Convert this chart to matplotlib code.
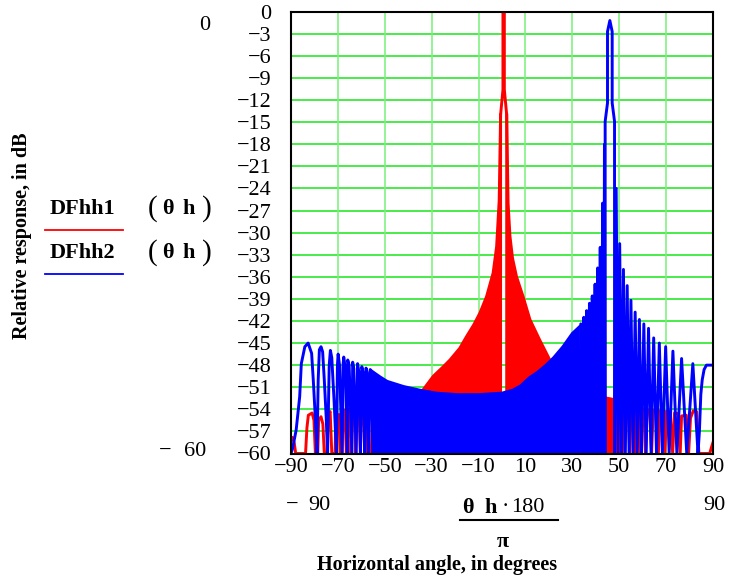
import numpy as np
import matplotlib.pyplot as plt
from matplotlib.lines import Line2D

plt.rcParams['font.family'] = ['Liberation Serif', 'DejaVu Serif']
plt.rcParams['axes.unicode_minus'] = True

# ---- DFhh1 (red), beam near broadside ----
# separate sidelobes on the far left (peak / null points, deg and dB)
red_left_ang = [-90.0, -89.4, -88.6, -88.0, -83.8, -83.2, -82.6, -81.0, -80.2, -79.6,
                -78.6, -78.2, -77.2, -76.4, -75.8,
                -74.6, -74.2, -73.3, -72.6,
                -71.2, -70.8, -69.6, -69.0,
                -68.2, -67.8, -67.0, -66.4,
                -65.8, -65.0, -64.4,
                -63.8, -63.0, -62.4,
                -61.8, -61.0, -60.4,
                -59.8, -59.0, -58.4,
                -57.8, -57.0, -56.4]
red_left_db = [-58.0, -57.8, -58.6, -60, -60, -56.5, -54.8, -54.5, -55.5, -60,
               -60, -55.5, -55.0, -56.0, -60,
               -60, -54.8, -54.3, -60,
               -60, -55.0, -54.7, -60,
               -60, -54.4, -54.1, -60,
               -54.0, -54.0, -60,
               -53.9, -53.8, -60,
               -53.8, -53.7, -60,
               -53.6, -53.5, -60,
               -53.5, -53.4, -60]
# top edge of the dense sidelobe band, either side of the main beam
red_band_l_ang = [-56, -48, -40, -34, -29.3, -25, -22.2, -18, -15.1, -12, -9.4, -6.6,
                  -3.8, -2.3, -1.2, -0.6]
red_band_l_db = [-53.4, -53.2, -52.6, -51.5, -49.5, -48.2, -47.3, -45.7, -44.1, -42.5,
                 -40.9, -38.7, -35.5, -31.9, -25.6, -14.0]
red_band_r_ang = [2.0, 2.6, 3.4, 4.5, 6.2, 9.0, 11.9, 16.1, 20.4, 25, 30, 35, 40, 45, 50]
red_band_r_db = [-14.0, -26.0, -30.5, -33.5, -36.0, -38.7, -41.8, -44.6, -47.3, -49.3,
                 -50.8, -51.8, -52.2, -52.5, -52.8]
red_beam_ang = [-0.6, -0.6, 0.4, 0.4, 1.0, 1.0, 2.0, 2.0]
red_beam_db = [-60, -14.0, -10.6, 1.0, 1.0, -10.6, -14.0, -60]
red_right_ang = [50.2, 50.8, 51.6, 52.3, 52.9, 53.8, 54.5, 55.1, 56.0, 56.7,
                 57.3, 58.2, 58.9, 59.5, 60.5, 61.2, 61.9, 63.0, 63.8,
                 64.5, 65.8, 66.7, 67.4, 68.6, 69.5, 70.2, 71.8, 72.8,
                 73.6, 75.2, 76.0, 76.6, 78.6, 79.6, 80.4, 81.6, 83.0, 84.0,
                 88.6, 89.3, 90.0]
red_right_db = [-60, -53.0, -53.3, -60, -53.2, -53.4, -60, -53.4, -53.6, -60,
                -53.6, -53.8, -60, -53.8, -54.0, -60, -54.0, -54.2, -60,
                -54.1, -54.3, -60, -54.2, -54.3, -60, -54.2, -54.4, -60,
                -54.5, -54.6, -60, -54.9, -54.8, -60, -55.2, -54.2, -54.3, -60,
                -60, -59.2, -58.5]

# ---- DFhh2 (blue), beam steered to about 46 deg ----
blue_left_ang = [-90.0, -89.3, -87.8, -86.3, -85.6, -84.1, -82.7, -81.2, -80.5, -79.8, -78.9,
                 -78.4, -77.9, -77.2, -76.5, -75.8, -75.0, -74.4,
                 -73.7, -73.2, -72.6, -71.6, -70.6,
                 -70.2, -69.9, -69.3, -68.2,
                 -67.8, -67.5, -66.8, -66.0,
                 -65.8, -65.2, -64.0,
                 -63.7, -63.2, -62.2,
                 -61.6, -61.0, -60.4,
                 -59.8, -59.2, -58.6,
                 -58.0, -57.5, -57.0,
                 -56.2, -55.7, -55.2]
blue_left_db = [-60, -59.3, -56.8, -52.3, -47.8, -45.5, -45.0, -46.4, -50.0, -54.1, -60,
                -50, -45.9, -45.5, -46.2, -50, -55, -60,
                -48, -46.0, -47, -53, -60,
                -48, -46.5, -48, -60,
                -48, -46.9, -48.5, -60,
                -47.3, -48, -60,
                -47.6, -48.5, -60,
                -47.8, -49, -60,
                -48.2, -49, -60,
                -48.4, -49, -60,
                -48.6, -49, -60]
blue_band_ang = [-55.6, -52, -49, -45, -42, -35, -28, -19, -10, 0, 4.6, 8, 11.7, 15,
                 18.8, 22, 26, 30, 33.0]
blue_band_db = [-48.8, -49.6, -50.2, -50.6, -50.9, -51.4, -51.8, -52.0, -52.0, -51.8,
                -51.4, -50.8, -49.7, -49.0, -48.0, -47.0, -45.5, -43.7, -42.8]
blue_near_ang = [33.0, 33.6, 34.3, 34.9, 35.5, 36.1, 36.7, 37.3, 37.9, 38.5, 39.1,
                 39.7, 40.3, 40.8, 41.4, 41.9, 42.5, 42.9, 43.4, 43.7, 44.0]
blue_near_db = [-60, -42.4, -60, -41.5, -60, -40.6, -60, -39.6, -60, -38.6, -60,
                -37.0, -60, -34.8, -60, -32.0, -60, -26.0, -60, -18.0, -60]
blue_beam_ang = [44.0, 44.0, 45.0, 45.0, 46.0, 47.0, 47.0, 48.0, 48.0]
blue_beam_db = [-60, -14.9, -12.4, -2.7, -1.2, -2.7, -12.4, -14.9, -60]
blue_right_ang = [48.0, 48.7, 49.5, 50.2, 51.0, 51.8, 52.6, 53.4, 54.2, 55.0, 55.9,
                  56.8, 57.7, 58.6, 59.5, 60.5, 61.5, 62.5, 63.6, 64.7, 65.9,
                  67.1, 68.4, 69.8, 71.3, 72.9, 74.6, 76.6, 78.8, 81.4, 83.6,
                  84.2, 84.8, 85.4, 86.2, 87.2, 90.0]
blue_right_db = [-60, -24.0, -60, -31.5, -60, -35.0, -60, -37.2, -60, -39.2, -60,
                 -40.8, -60, -41.8, -60, -42.4, -60, -43.0, -60, -44.3, -60,
                 -45.0, -60, -45.5, -60, -46.1, -60, -47.1, -60, -47.8, -60,
                 -57.0, -52.0, -50.0, -48.6, -48.0, -48.0]

x_ticks = np.arange(-90, 91, 20)
y_ticks = np.arange(-60, 1, 3)

W, H = 729, 580
fig = plt.figure(figsize=(W / 100, H / 100), dpi=100)
ax = fig.add_axes([291 / W, 1 - 453.5 / H, 422 / W, 441.8 / H])

RED = '#ff0000'
BLUE = '#0000ff'
lw = 2.1

# red trace first, blue drawn over it
ax.plot(red_left_ang, red_left_db, color=RED, lw=lw, zorder=3)
ax.fill_between(red_band_l_ang, red_band_l_db, -60, color=RED, lw=0, zorder=3)
ax.plot(red_band_l_ang, red_band_l_db, color=RED, lw=lw, zorder=3)
ax.fill_between(red_band_r_ang, red_band_r_db, -60, color=RED, lw=0, zorder=3)
ax.plot(red_band_r_ang, red_band_r_db, color=RED, lw=lw, zorder=3)
ax.plot(red_beam_ang, red_beam_db, color=RED, lw=lw, zorder=3)
ax.plot(red_right_ang, red_right_db, color=RED, lw=lw, zorder=3)

ax.plot(blue_left_ang, blue_left_db, color=BLUE, lw=lw, zorder=4)
ax.fill_between(blue_band_ang, blue_band_db, -60, color=BLUE, lw=0, zorder=4)
ax.plot(blue_band_ang, blue_band_db, color=BLUE, lw=lw, zorder=4)
ax.plot(blue_near_ang, blue_near_db, color=BLUE, lw=lw, zorder=4)
ax.plot(blue_beam_ang, blue_beam_db, color=BLUE, lw=lw, zorder=4)
ax.plot(blue_right_ang, blue_right_db, color=BLUE, lw=lw, zorder=4)

ax.set_xlim(-90, 90)
ax.set_ylim(-60, 0)
ax.set_xticks(x_ticks)
ax.set_yticks(y_ticks)
ax.tick_params(length=0, labelsize=16)
ax.tick_params(axis='y', pad=14)
ax.tick_params(axis='x', pad=3)

# grid: horizontal lines bright green, vertical ones paler
for v in y_ticks:
    ax.axhline(v, color='#19e619', lw=1.1, zorder=1)
for v in x_ticks:
    ax.axvline(v, color='#78f078', lw=1.1, zorder=1)
for s in ax.spines.values():
    s.set_color('black')
    s.set_linewidth(1.5)
    s.set_zorder(6)


def put(x, y, s, **kw):
    fig.text(x / W, 1 - y / H, s, ha='center', va='center', **kw)


# axis limits printed outside the plot
put(205, 26, '0', fontsize=16)
put(165, 451, '\u2212', fontsize=16)
put(195, 451, '60', fontsize=16)
put(292, 505, '\u2212', fontsize=16)
put(319, 505, '90', fontsize=16)
put(714, 505, '90', fontsize=16)

# x-axis expression  theta h * 180 / pi
put(468, 508, '\u03b8', fontsize=16, fontweight='bold')
put(491, 508, 'h', fontsize=16, fontweight='bold')
put(505, 508, '\u00b7', fontsize=16)
put(528, 508, '180', fontsize=16)
fig.add_artist(Line2D([460 / W, 558 / W], [1 - 520 / H, 1 - 520 / H], color='black', lw=1.5))
put(503, 542, '\u03c0', fontsize=16, fontweight='bold')
put(437, 565, 'Horizontal angle, in degrees', fontsize=14.5, fontweight='bold')

# y-axis expressions and legend lines
put(22, 236, 'Relative response, in dB', fontsize=14.5, fontweight='bold', rotation=90)
for yy, name, col, ly in [(209, 'DFhh1', RED, 229.5), (253, 'DFhh2', BLUE, 274)]:
    put(82, yy, name, fontsize=16, fontweight='bold')
    put(153, yy, '(', fontsize=21)
    put(168, yy, '\u03b8', fontsize=16, fontweight='bold')
    put(189, yy, 'h', fontsize=16, fontweight='bold')
    put(207, yy, ')', fontsize=21)
    fig.add_artist(Line2D([45 / W, 123 / W], [1 - ly / H, 1 - ly / H], color=col, lw=1.3))

fig.savefig('out.png', dpi=100)
